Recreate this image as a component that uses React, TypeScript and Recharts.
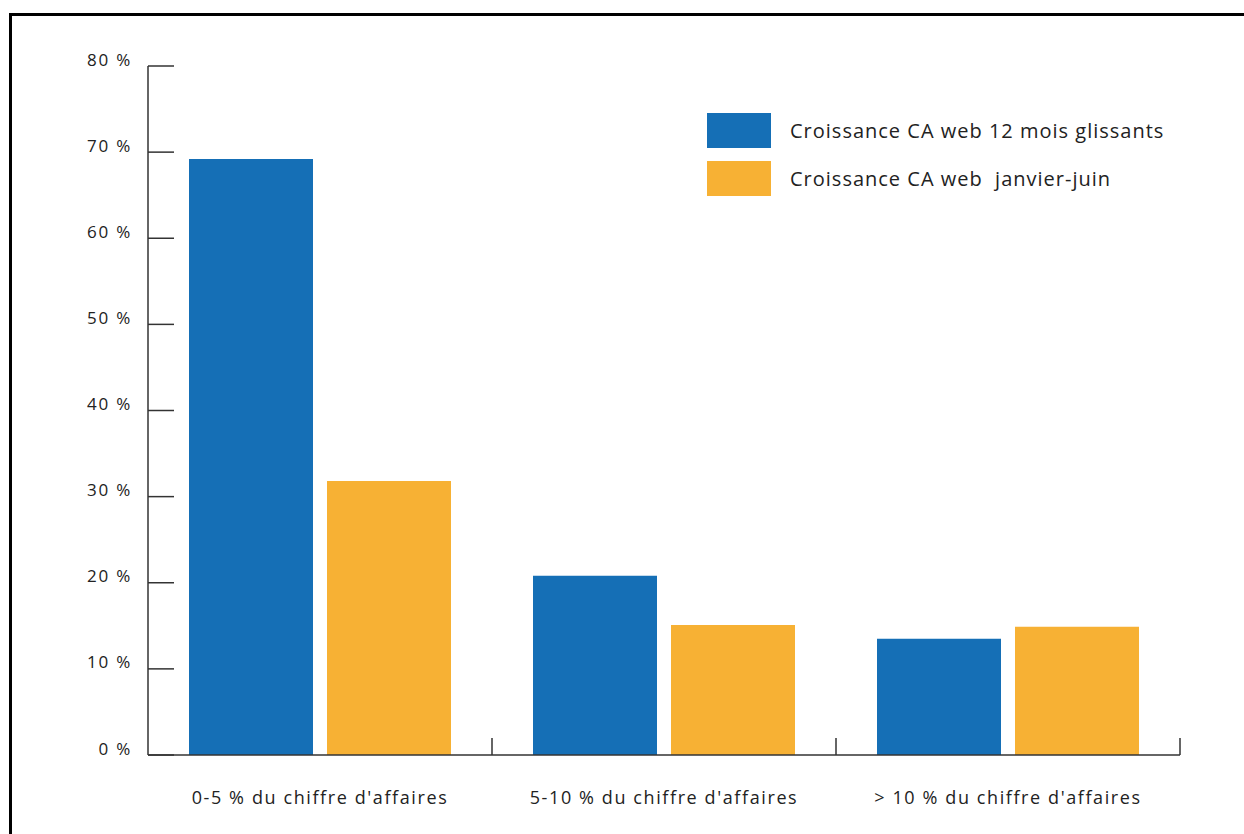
import { BarChart, Bar, XAxis, YAxis, Legend } from "recharts";

const categories = [
  "0-5 % du chiffre d'affaires",
  "5-10 % du chiffre d'affaires",
  "> 10 % du chiffre d'affaires",
];
const glissants = [69.2, 20.8, 13.5];
const janvierJuin = [31.8, 15.1, 14.9];
const yTicks = [0, 10, 20, 30, 40, 50, 60, 70, 80];

const seriesNames = [
  "Croissance CA web 12 mois glissants",
  "Croissance CA web  janvier-juin",
];

const BLUE = "#156fb6";
const ORANGE = "#f7b134";
const AXIS = "#333333";
const FONT = "'Open Sans', sans-serif";

const W = 1244;
const H = 834;
const MARGIN = { top: 66, right: 64, bottom: 0, left: 0 };
const Y_AXIS_W = 148;
const X_AXIS_H = 79;
const BAND = (W - MARGIN.left - Y_AXIS_W - MARGIN.right) / categories.length;

const data = categories.map((name, i) => ({
  name,
  glissants: glissants[i],
  janvierJuin: janvierJuin[i],
}));

function YTick(props: any) {
  const { x, y, payload } = props;
  return (
    <g>
      <line x1={x + 17} x2={x + 43} y1={y} y2={y} stroke={AXIS} strokeWidth={1.5} />
      <text
        x={x + 1}
        y={y - 7}
        textAnchor="end"
        dominantBaseline="central"
        fontSize={17}
        letterSpacing={1.8}
        fontFamily={FONT}
        fill="#222"
      >
        {payload.value} %
      </text>
    </g>
  );
}

function XTick(props: any) {
  const { x, y, payload } = props;
  return (
    <g>
      <line x1={x + BAND / 2} x2={x + BAND / 2} y1={y - 17} y2={y} stroke={AXIS} strokeWidth={1.5} />
      <text
        x={x}
        y={y + 42}
        textAnchor="middle"
        dominantBaseline="central"
        fontSize={18}
        letterSpacing={1.6}
        fontFamily={FONT}
        fill="#222"
      >
        {payload.value}
      </text>
    </g>
  );
}

function LegendBox() {
  const colors = [BLUE, ORANGE];
  return (
    <div style={{ fontFamily: FONT }}>
      {seriesNames.map((n, i) => (
        <div key={n} style={{ display: "flex", alignItems: "center", marginBottom: 13 }}>
          <div style={{ width: 64, height: 35, background: colors[i] }} />
          <span
            style={{ marginLeft: 19, fontSize: 20, letterSpacing: 1, color: "#222", whiteSpace: "pre" }}
          >
            {n}
          </span>
        </div>
      ))}
    </div>
  );
}

export default function App() {
  return (
    <div style={{ position: "absolute", left: 0, top: 0, width: W, height: H, background: "#fff" }}>
      <div
        style={{
          position: "absolute",
          left: 9,
          top: 13,
          right: 0,
          bottom: 0,
          borderLeft: "3px solid #000",
          borderTop: "3px solid #000",
        }}
      />
      <div style={{ position: "absolute", left: 0, top: 0 }}>
        <BarChart width={W} height={H} data={data} margin={MARGIN} barSize={124} barGap={14}>
          <XAxis
            dataKey="name"
            height={X_AXIS_H}
            tickSize={0}
            tickMargin={0}
            tickLine={false}
            axisLine={{ stroke: AXIS, strokeWidth: 1.5 }}
            tick={<XTick />}
            interval={0}
          />
          <YAxis
            width={Y_AXIS_W}
            domain={[0, 80]}
            ticks={yTicks}
            tickSize={0}
            tickMargin={17}
            tickLine={false}
            axisLine={{ stroke: AXIS, strokeWidth: 1.5 }}
            tick={<YTick />}
            interval={0}
          />
          <Legend
            layout="vertical"
            align="center"
            verticalAlign="middle"
            content={<LegendBox />}
            wrapperStyle={{ top: 113, left: 707, width: 520 }}
          />
          <Bar dataKey="glissants" name={seriesNames[0]} fill={BLUE} isAnimationActive={false} />
          <Bar dataKey="janvierJuin" name={seriesNames[1]} fill={ORANGE} isAnimationActive={false} />
        </BarChart>
      </div>
    </div>
  );
}
